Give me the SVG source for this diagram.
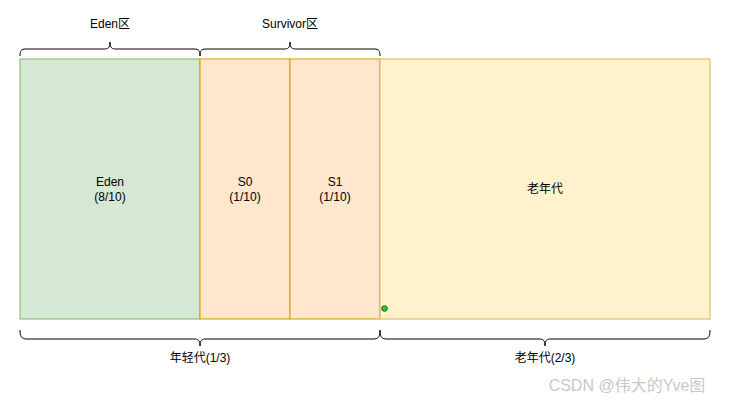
<svg xmlns="http://www.w3.org/2000/svg" width="734" height="408" viewBox="0 0 734 408">
<style>
text{font-family:"Liberation Sans",Arial,"Noto Sans CJK SC",sans-serif;font-size:12px;fill:#000;text-anchor:middle}
.brace{fill:none;stroke:#000;stroke-width:1}
</style>
<rect width="734" height="408" fill="#fff"/>
<g id="eden"><rect x="20" y="59" width="180" height="260" fill="#d5e8d4" stroke="#82b366"/><text x="110" y="186">Eden</text><text x="110" y="201">(8/10)</text></g>
<g id="s0"><rect x="200" y="59" width="90" height="260" fill="#ffe6cc" stroke="#d79b00"/><text x="245" y="186">S0</text><text x="245" y="201">(1/10)</text></g>
<g id="s1"><rect x="290" y="59" width="90" height="260" fill="#ffe6cc" stroke="#d79b00"/><text x="335" y="186">S1</text><text x="335" y="201">(1/10)</text></g>
<g id="old"><rect x="380" y="59" width="330" height="260" fill="#fff2cc" stroke="#d6b656"/><text x="545" y="193">老年代</text></g>
<g id="dot"><circle cx="384.5" cy="308.5" r="2.8" fill="#33cc33" stroke="#1a5c1a" stroke-width="1"/></g>
<g id="connectors">
<path class="brace" d="M20,56 C20,51 21,49 26,49 L104,49 C108,49 110,48 110,42 C110,48 112,49 116,49 L194,49 C199,49 200,51 200,56"/>
<path class="brace" d="M200,56 C200,51 201,49 206,49 L284,49 C288,49 290,48 290,42 C290,48 292,49 296,49 L374,49 C379,49 380,51 380,56"/>
<path class="brace" d="M20,330 C20,336 21,339 27,339 L194,339 C198,339 200,340 200,346 C200,340 202,339 206,339 L373,339 C379,339 380,336 380,330"/>
<path class="brace" d="M380,330 C380,336 381,339 387,339 L539,339 C543,339 545,340 545,346 C545,340 547,339 551,339 L703,339 C709,339 710,336 710,330"/>
</g>
<g id="labels">
<text x="110" y="28">Eden区</text>
<text x="290" y="28">Survivor区</text>
<text x="200" y="362">年轻代(1/3)</text>
<text x="545" y="362">老年代(2/3)</text>
</g>
<text x="627" y="391" style="font-size:16px;fill:#c8c8c8">CSDN @伟大的Yve图</text>
</svg>
